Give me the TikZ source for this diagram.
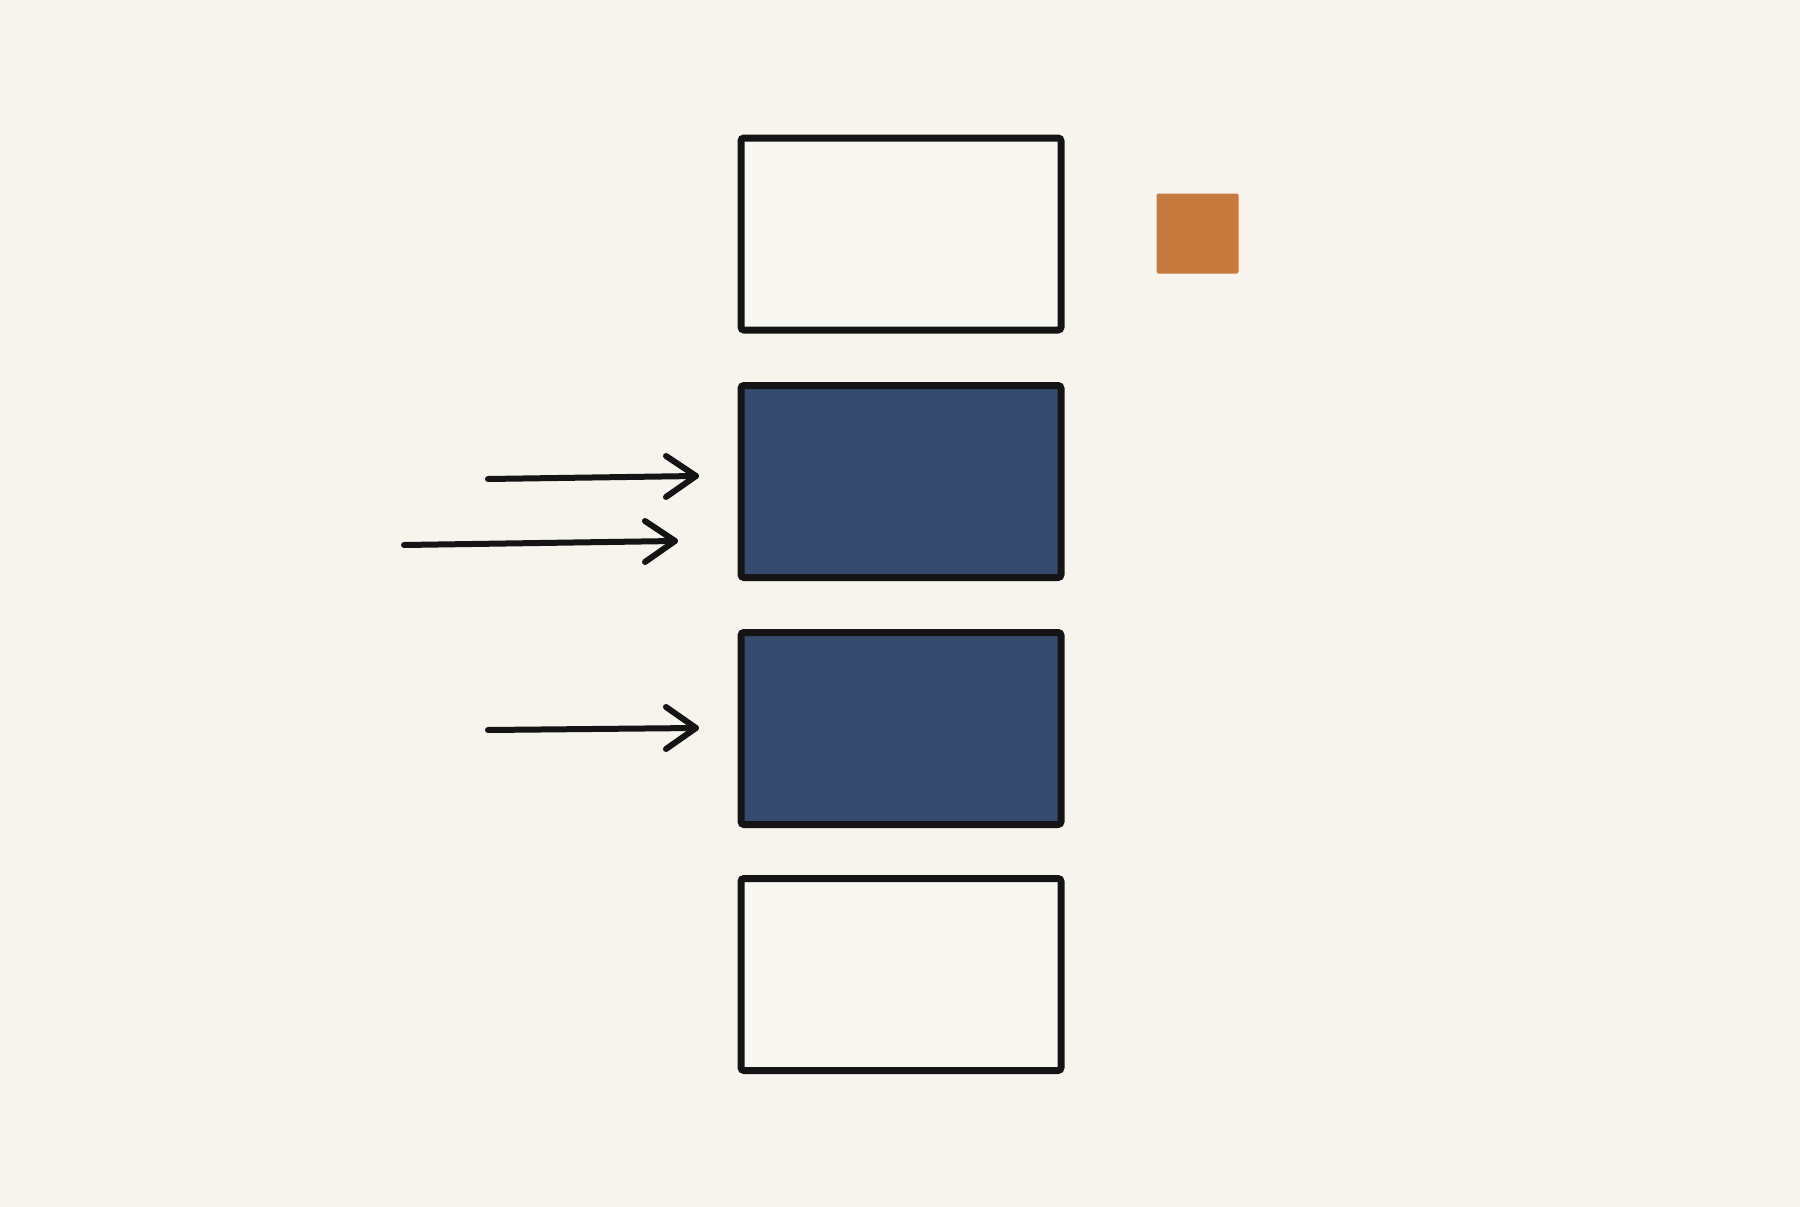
\documentclass[tikz,border=0pt]{standalone}
\usetikzlibrary{arrows.meta}
\definecolor{bgc}{HTML}{F7F4EE}
\definecolor{boxw}{HTML}{F9F7F2}
\definecolor{boxb}{HTML}{354B6D}
\definecolor{ink}{HTML}{141414}
\definecolor{orng}{HTML}{C67A3E}
\begin{document}
\begin{tikzpicture}[x=1pt,y=-1pt,
  stack/.style={draw=ink, line width=7pt, rounded corners=3pt, minimum width=320pt, minimum height=192pt, inner sep=0pt, outer sep=0pt},
  plain/.style={stack, fill=boxw},
  dark/.style={stack, fill=boxb},
  accent/.style={fill=orng, rounded corners=2pt, minimum width=82pt, minimum height=80pt, inner sep=0pt},
  flow/.style={draw=ink, line width=6pt, line cap=round, line join=round},
  barb/.style={draw=ink, line width=6pt, line cap=round, line join=round}
]
\fill[bgc] (0,0) rectangle (1800,1207);
\useasboundingbox (0,0) rectangle (1800,1207);
\node[plain] (b1) at (901,234) {};
\node[dark] (b2) at (901,481.5) {};
\node[dark] (b3) at (901,728.5) {};
\node[plain] (b4) at (901,974.5) {};
\node[accent] (sq) at (1197.5,233.5) {};
\coordinate (s1) at (488,479);
\coordinate (e1) at (696,476);
\coordinate (s2) at (404,545);
\coordinate (e2) at (675,541);
\coordinate (s3) at (488,730);
\coordinate (e3) at (696,728);
\draw[flow] (s1) -- (e1);
\draw[barb] (e1) ++(-30,-20) -- (e1) -- ++(-30,21);
\draw[flow] (s2) -- (e2);
\draw[barb] (e2) ++(-30,-20) -- (e2) -- ++(-30,21);
\draw[flow] (s3) -- (e3);
\draw[barb] (e3) ++(-30,-21) -- (e3) -- ++(-30,21);
\end{tikzpicture}
\end{document}
